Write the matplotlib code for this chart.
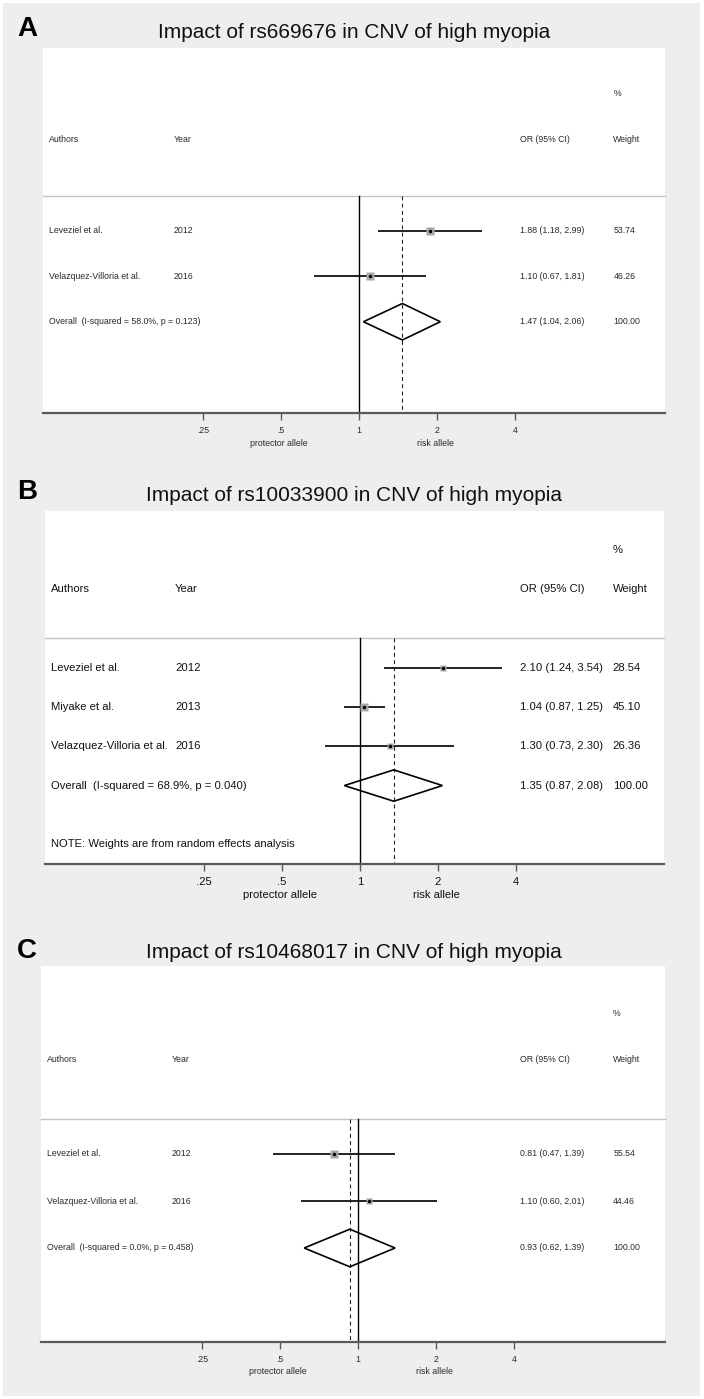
import matplotlib
matplotlib.use('Agg')
import matplotlib.pyplot as plt
from matplotlib.patches import Polygon, Rectangle
from matplotlib.transforms import blended_transform_factory

plt.rcParams['font.family'] = ['Liberation Sans', 'DejaVu Sans']

# ---------------- data ----------------
panel_labels = ['A', 'B', 'C']
titles = ['Impact of rs669676 in CNV of high myopia',
          'Impact of rs10033900 in CNV of high myopia',
          'Impact of rs10468017 in CNV of high myopia']

A_authors = ['Leveziel et al.', 'Velazquez-Villoria et al.']
A_years = ['2012', '2016']
A_or = [1.88, 1.10]
A_lo = [1.18, 0.67]
A_hi = [2.99, 1.81]
A_weight = [53.74, 46.26]
A_overall = [1.47, 1.04, 2.06]
A_overall_label = 'Overall  (I-squared = 58.0%, p = 0.123)'

B_authors = ['Leveziel et al.', 'Miyake et al.', 'Velazquez-Villoria et al.']
B_years = ['2012', '2013', '2016']
B_or = [2.10, 1.04, 1.30]
B_lo = [1.24, 0.87, 0.73]
B_hi = [3.54, 1.25, 2.30]
B_weight = [28.54, 45.10, 26.36]
B_overall = [1.35, 0.87, 2.08]
B_overall_label = 'Overall  (I-squared = 68.9%, p = 0.040)'
B_note = 'NOTE: Weights are from random effects analysis'

C_authors = ['Leveziel et al.', 'Velazquez-Villoria et al.']
C_years = ['2012', '2016']
C_or = [0.81, 1.10]
C_lo = [0.47, 0.60]
C_hi = [1.39, 2.01]
C_weight = [55.54, 44.46]
C_overall = [0.93, 0.62, 1.39]
C_overall_label = 'Overall  (I-squared = 0.0%, p = 0.458)'

xtick_vals = [0.25, 0.5, 1, 2, 4]
xtick_labels = ['.25', '.5', '1', '2', '4']
header = ['Authors', 'Year', 'OR (95% CI)', 'Weight']
side_labels = ['protector allele', 'risk allele']

# ---------------- layout ----------------
W, H = 704, 1399
fig = plt.figure(figsize=(W / 100, H / 100), dpi=100)
fig.patch.set_facecolor('white')
fig.patches.append(Rectangle((3 / W, 3 / H), 697 / W, 1393 / H, transform=fig.transFigure,
                             facecolor='#eeeeee', edgecolor='none', zorder=-10))

panels = [
    dict(authors=A_authors, years=A_years, orv=A_or, lo=A_lo, hi=A_hi, w=A_weight,
         ov=A_overall, ovl=A_overall_label, note=None,
         box=(43, 48, 665, 413), one=359, title_y=33, lab_y=29, fs=6.3, tcol='#2a2a2a',
         tpad=4.0, sidey=30),
    dict(authors=B_authors, years=B_years, orv=B_or, lo=B_lo, hi=B_hi, w=B_weight,
         ov=B_overall, ovl=B_overall_label, note=B_note,
         box=(45, 511, 664, 864), one=360, title_y=495, lab_y=492, fs=8.1, tcol='#111111',
         tpad=4.6, sidey=31),
    dict(authors=C_authors, years=C_years, orv=C_or, lo=C_lo, hi=C_hi, w=C_weight,
         ov=C_overall, ovl=C_overall_label, note=None,
         box=(41, 966, 665, 1342), one=358, title_y=953, lab_y=951, fs=6.3, tcol='#2a2a2a',
         tpad=4.0, sidey=30),
]

col_x = [0.010, 0.210, 0.767, 0.917]
px_per_doubling = 78.0

for k, p in enumerate(panels):
    x0, y0, x1, y1 = p['box']
    ax = fig.add_axes([x0 / W, 1 - y1 / H, (x1 - x0) / W, (y1 - y0) / H])
    ax.set_facecolor('white')
    ax.set_xscale('log', base=2)
    ax.set_xlim(2 ** ((x0 - p['one']) / px_per_doubling), 2 ** ((x1 - p['one']) / px_per_doubling))
    n = len(p['authors'])
    ybot = n + 3
    ax.set_ylim(ybot, -3)
    for s in ['top', 'left', 'right']:
        ax.spines[s].set_visible(False)
    ax.spines['bottom'].set_color('#5a5a5a')
    ax.spines['bottom'].set_linewidth(1.6)
    ax.set_yticks([])
    ax.set_xticks(xtick_vals)
    ax.set_xticklabels(xtick_labels)
    ax.xaxis.set_minor_locator(matplotlib.ticker.NullLocator())
    ax.tick_params(axis='x', direction='out', length=5, width=1, color='#5a5a5a',
                   labelsize=p['fs'], labelcolor=p['tcol'], pad=p['tpad'])

    fs = p['fs']
    tc = p['tcol']
    tr = blended_transform_factory(ax.transAxes, ax.transData)

    sep = 0.25
    ax.plot([0, 1], [sep, sep], transform=tr, color='#c4c4c4', lw=1.0, clip_on=False)

    # reference lines
    ax.plot([1, 1], [sep, ybot], color='black', lw=1.0, zorder=2)
    ov, olo, ohi = p['ov']
    ax.plot([ov, ov], [sep, ybot], color='#222222', lw=0.8, ls=(0, (3.5, 3)), zorder=2)

    # header
    for cx, h in zip(col_x, header):
        ax.text(cx, -1, h, transform=tr, ha='left', va='center', fontsize=fs, color=tc)
    ax.text(col_x[3], -2, '%', transform=tr, ha='left', va='center', fontsize=fs, color=tc)

    # studies
    for i in range(n):
        y = i + 1
        ax.plot([p['lo'][i], p['hi'][i]], [y, y], color='#111111', lw=1.3, zorder=3,
                solid_capstyle='butt')
        ms = 2.8 + 0.05 * p['w'][i]
        ax.plot([p['orv'][i]], [y], marker='s', ms=ms, color='#a8a8a8', mec='none', zorder=4)
        ax.plot([p['orv'][i]], [y], marker='o', ms=2.5, color='black', mec='none', zorder=5)
        ax.text(col_x[0], y, p['authors'][i], transform=tr, ha='left', va='center', fontsize=fs, color=tc)
        ax.text(col_x[1], y, p['years'][i], transform=tr, ha='left', va='center', fontsize=fs, color=tc)
        ax.text(col_x[2], y, '%.2f (%.2f, %.2f)' % (p['orv'][i], p['lo'][i], p['hi'][i]),
                transform=tr, ha='left', va='center', fontsize=fs, color=tc)
        ax.text(col_x[3], y, '%.2f' % p['w'][i], transform=tr, ha='left', va='center', fontsize=fs, color=tc)

    # overall
    yo = n + 1
    dia = Polygon([(olo, yo), (ov, yo - 0.4), (ohi, yo), (ov, yo + 0.4)], closed=True,
                  facecolor='none', edgecolor='black', lw=1.2, zorder=4)
    ax.add_patch(dia)
    ax.text(col_x[0], yo, p['ovl'], transform=tr, ha='left', va='center', fontsize=fs, color=tc)
    ax.text(col_x[2], yo, '%.2f (%.2f, %.2f)' % (ov, olo, ohi), transform=tr, ha='left',
            va='center', fontsize=fs, color=tc)
    ax.text(col_x[3], yo, '%.2f' % 100.0, transform=tr, ha='left', va='center', fontsize=fs, color=tc)

    if p['note']:
        ax.text(col_x[0], n + 2.5, p['note'], transform=tr, ha='left', va='center', fontsize=fs, color=tc)

    # side labels under axis
    for xv, s in zip([0.49, 1.97], side_labels):
        ax.annotate(s, xy=(xv, 0), xycoords=('data', 'axes fraction'),
                    xytext=(0, -p['sidey'] * 0.72), textcoords='offset points',
                    ha='center', va='center', fontsize=fs, color=tc, annotation_clip=False)

    # title and panel label
    fig.text(354 / W, 1 - p['title_y'] / H, titles[k], ha='center', va='center',
             fontsize=15, color='#111111')
    fig.text(27 / W, 1 - p['lab_y'] / H, panel_labels[k], ha='center', va='center',
             fontsize=20, fontweight='bold', color='black')

fig.savefig('out.png', dpi=100, facecolor=fig.get_facecolor())
